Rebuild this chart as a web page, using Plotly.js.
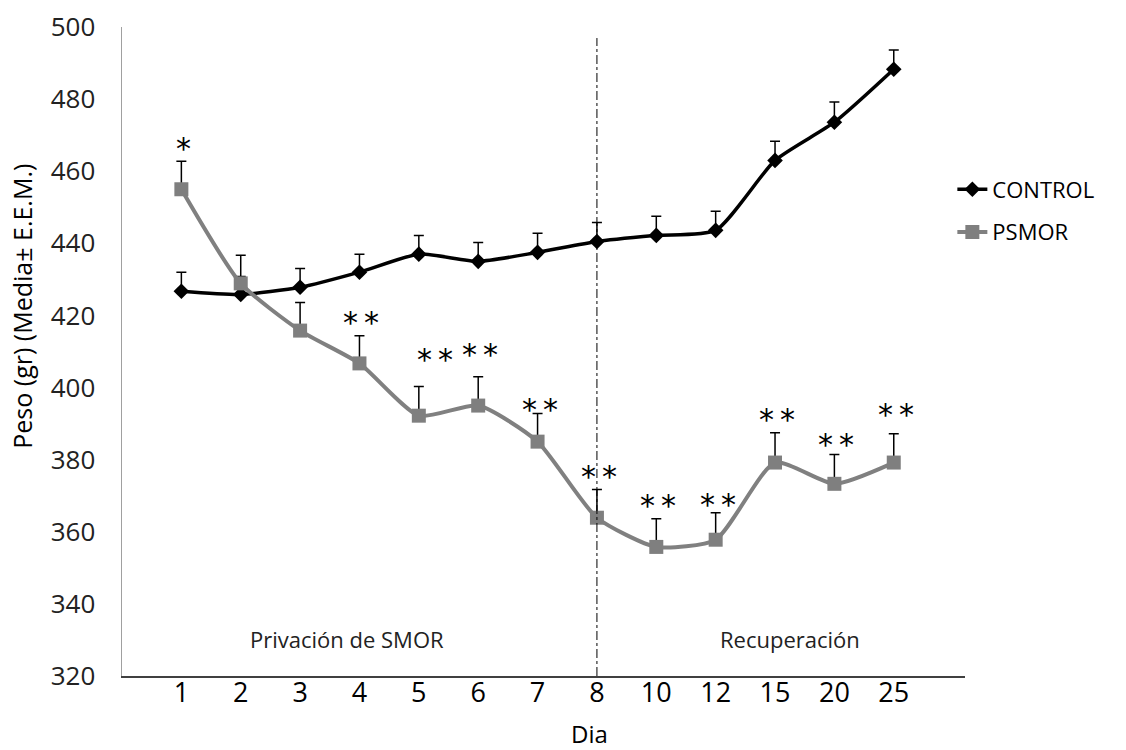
<!DOCTYPE html>
<html>
<head>
<meta charset="utf-8">
<script src="https://cdn.plot.ly/plotly-3.0.1.min.js"></script>
<style>html,body{margin:0;padding:0;background:#fff;}#chart{width:1126px;height:750px;}</style>
</head>
<body>
<div id="chart"></div>
<script>
var days = ["1","2","3","4","5","6","7","8","10","12","15","20","25"];
var controlMean = [426.7, 425.8, 427.8, 432.0, 437.0, 435.0, 437.5, 440.5, 442.2, 443.6, 463.0, 473.6, 488.3];
var controlErr  = [5.3, 5.0, 5.2, 5.0, 5.2, 5.2, 5.3, 5.3, 5.3, 5.3, 5.3, 5.6, 5.3];
var psmorMean   = [455.0, 428.9, 415.8, 406.7, 392.2, 395.0, 385.0, 363.9, 355.8, 357.8, 379.2, 373.3, 379.2];
var psmorErr    = [7.8, 7.8, 7.8, 7.7, 8.1, 8.0, 7.8, 7.8, 7.8, 7.5, 8.3, 8.1, 8.0];
var signif      = ["*", "", "", "**", "**", "**", "**", "**", "**", "**", "**", "**", "**"];
var phaseLabels = ["Privación de SMOR", "Recuperación"];
var phaseDays   = ["4", "15"];
var boundaryDay = "8";

var idx = function(d){ return days.indexOf(d); };

var traces = [
  {
    x: days, y: controlMean, name: "CONTROL", type: "scatter", mode: "lines+markers", legendgroup: "c",
    line: {color: "#000000", width: 3.5, shape: "spline", smoothing: 0.6},
    marker: {symbol: "diamond", size: 12, color: "#000000"},
    error_y: {type: "data", array: controlErr, arrayminus: controlErr.map(function(){return 0;}), symmetric: false, color: "#000000", thickness: 1.5, width: 5}
  },
  {
    x: days, y: psmorMean, name: "PSMOR", type: "scatter", mode: "lines+markers", legendgroup: "p",
    line: {color: "#808080", width: 4, shape: "spline", smoothing: 0.6},
    marker: {symbol: "square", size: 14, color: "#7f7f7f"},
    error_y: {type: "data", array: psmorErr, arrayminus: psmorErr.map(function(){return 0;}), symmetric: false, color: "#000000", thickness: 1.5, width: 5}
  }
];

// extra vertical nudges (px) for a few crowded labels
var starNudge = {"5": 14, "6": 9, "7": -9, "12": -5, "20": -3, "25": 6};
var annotations = [];
for (var i = 0; i < days.length; i++) {
  if (signif[i]) {
    annotations.push({
      x: i, y: psmorMean[i] + psmorErr[i], xref: "x", yref: "y",
      text: signif[i].split("").join("\u2009"), showarrow: false, yanchor: "middle",
      yshift: 13 + (starNudge[days[i]] || 0), xshift: (days[i] === "5") ? 16 : 2,
      font: {family: "DejaVu Sans, sans-serif", size: 30, color: "#000000"}
    });
  }
}
for (var j = 0; j < phaseLabels.length; j++) {
  annotations.push({
    x: idx(phaseDays[j]), y: 330.3, xref: "x", yref: "y", text: phaseLabels[j], showarrow: false,
    xshift: j === 0 ? -12 : 15,
    font: {family: "Open Sans, sans-serif", size: 22, color: "#222222"}
  });
}
annotations.push({
  x: -0.119, y: 0.57, xref: "paper", yref: "paper", xanchor: "center", yanchor: "middle",
  text: "Peso (gr) (Media± E.E.M.)",
  textangle: -90, showarrow: false, font: {family: "Open Sans, sans-serif", size: 25, color: "#000000"}
});
annotations.push({
  x: 0.555, y: -0.088, xref: "paper", yref: "paper", xanchor: "center", yanchor: "middle",
  text: "Dia", showarrow: false, font: {family: "Open Sans, sans-serif", size: 24, color: "#000000"}
});

var layout = {
  width: 1126, height: 750,
  margin: {l: 122, r: 161, t: 27, b: 74},
  paper_bgcolor: "#ffffff", plot_bgcolor: "#ffffff",
  showlegend: true,
  legend: {x: 0.985, y: 0.782, xanchor: "left", yanchor: "top", font: {family: "Open Sans, sans-serif", size: 22, color: "#000000"}, bgcolor: "rgba(0,0,0,0)", tracegroupgap: 11},
  xaxis: {
    type: "category", categoryorder: "array", categoryarray: days,
    range: [-1, 13.2], showgrid: false, zeroline: false,
    showline: true, linecolor: "#404040", linewidth: 2,
    ticks: "", ticklabelstandoff: -8,
    tickfont: {family: "Open Sans, sans-serif", size: 27, color: "#000000"}
  },
  yaxis: {
    range: [320, 500], dtick: 20, tick0: 320, showgrid: false, zeroline: false,
    showline: true, linecolor: "#a0a0a0", linewidth: 1.5, ticks: "",
    ticklabelstandoff: 20,
    tickfont: {family: "Open Sans, sans-serif", size: 26, color: "#222222"}
  },
  shapes: [{
    type: "line", xref: "x", yref: "paper", x0: idx(boundaryDay), x1: idx(boundaryDay), y0: 0, y1: 0.983,
    line: {color: "#000000", width: 1, dash: "dashdot"}
  }],
  annotations: annotations
};

Plotly.newPlot("chart", traces, layout, {displayModeBar: false, staticPlot: true});
</script>
</body>
</html>
